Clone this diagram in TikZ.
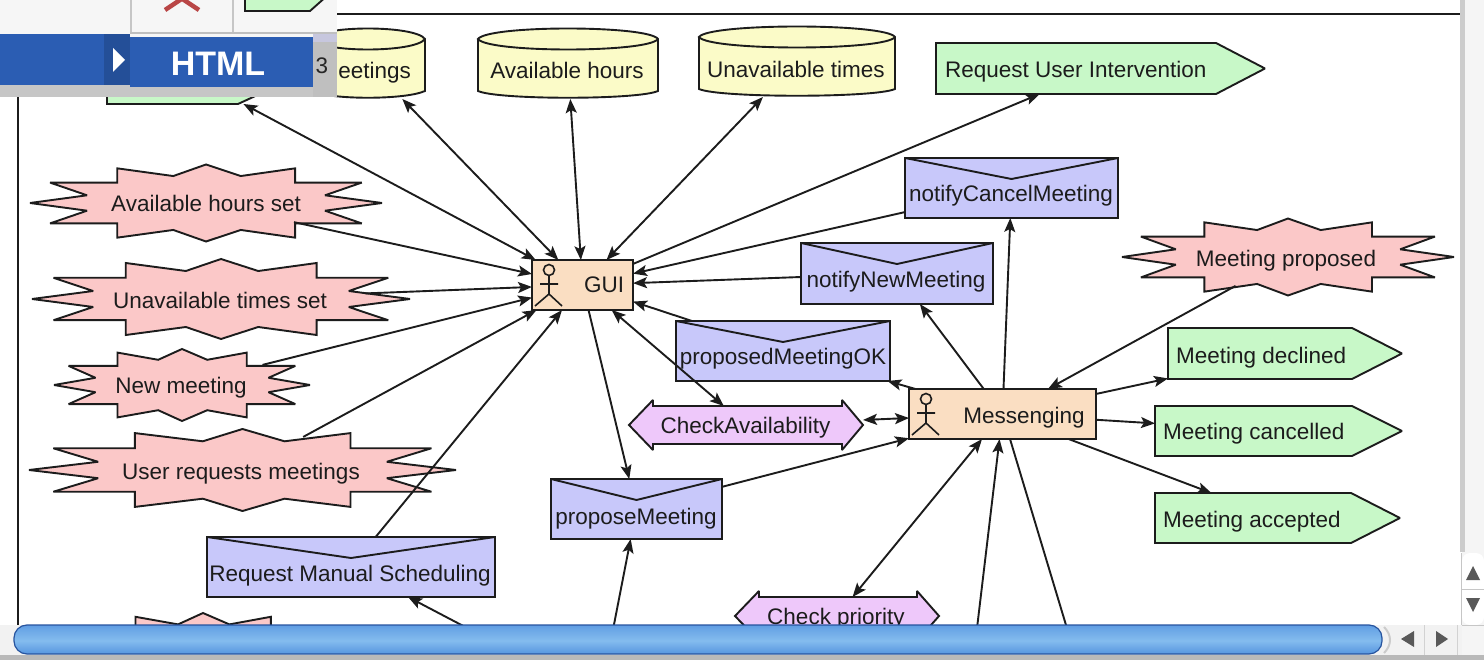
\documentclass[tikz,border=0pt]{standalone}
\usepackage{fontspec}
\setmainfont{Liberation Sans}
\usetikzlibrary{arrows.meta}
\definecolor{ink}{HTML}{1C1C1C}
\definecolor{starfill}{HTML}{FBC8C8}
\definecolor{envfill}{HTML}{C8C8FA}
\definecolor{pentfill}{HTML}{C8F8C8}
\definecolor{cylfill}{HTML}{FBFBC8}
\definecolor{actfill}{HTML}{FADEC2}
\definecolor{hexfill}{HTML}{EEC8FA}
\definecolor{menublue}{HTML}{2B5DB3}
\definecolor{sba}{HTML}{27549F}
\definecolor{sbb}{HTML}{4A88DC}
\definecolor{sbc}{HTML}{6AA6E6}
\definecolor{sbd}{HTML}{84BCEE}
\definecolor{sbe}{HTML}{5C9AE2}
\definecolor{sbf}{HTML}{3A74CC}
\pgfdeclareverticalshading{sbar}{100bp}{color(0bp)=(sba);color(10bp)=(sbf);color(28bp)=(sbe);color(48bp)=(sbd);color(68bp)=(sbc);color(88bp)=(sbb);color(94bp)=(sba);color(100bp)=(sba)}
\tikzset{
  shapeline/.style={draw=ink,line width=1.9pt,line join=miter,miter limit=2},
  hit/.style={rectangle,inner sep=0pt,outer sep=0pt},
  lbl/.style={inner sep=0pt,outer sep=0pt,anchor=base,text=ink,font=\fontsize{22.5}{26}\selectfont},
  lblw/.style={lbl,anchor=base west},
  envbox/.style={rectangle,inner sep=0pt,outer sep=0pt,shapeline,fill=envfill},
  actbox/.style={rectangle,inner sep=0pt,outer sep=0pt,shapeline,fill=actfill},
  conn/.style={draw=ink,line width=1.9pt},
  to/.style={conn,-{Stealth[length=14pt,width=11pt,inset=3pt]}},
  both/.style={conn,{Stealth[length=14pt,width=11pt,inset=3pt]}-{Stealth[length=14pt,width=11pt,inset=3pt]}},
  actorline/.style={draw=ink,line width=1.6pt}
}
% name, cx, cy, half width, half height
\newcommand{\starnode}[5]{%
  \begin{scope}[shift={(#2,#3)},x=#4pt,y=-#5pt]
    \draw[shapeline,fill=starfill] (-1,0)--(-.676,-.2)--(-.886,-.53)--(-.504,-.53)--(-.504,-.9)--(-.186,-.7)--(0,-1)--(.197,-.7)--(.506,-.9)--(.506,-.53)--(.885,-.53)--(.676,-.2)--(1,0)--(.676,.2)--(.885,.53)--(.506,.53)--(.506,.9)--(.197,.7)--(0,1)--(-.186,.7)--(-.504,.9)--(-.504,.53)--(-.886,.53)--(-.676,.2)--cycle;
  \end{scope}
  \node[hit,minimum width={#4*1.0pt},minimum height={#5*1.8pt}] (#1) at (#2,#3) {};
}
% name, left, shoulder, tip, top, bottom
\newcommand{\pentnode}[6]{%
  \draw[shapeline,fill=pentfill] (#2,#5)--(#3,#5)--(#4,{(#5+#6)/2})--(#3,#6)--(#2,#6)--cycle;
  \node[hit,minimum width={(#4-#2)*1pt},minimum height={(#6-#5)*1pt}] (#1) at ({(#2+#4)/2},{(#5+#6)/2}) {};
}
% name, left, right, top, bottom
\newcommand{\envnode}[5]{%
  \node[envbox,minimum width={(#3-#2)*1pt},minimum height={(#5-#4)*1pt}] (#1) at ({(#2+#3)/2},{(#4+#5)/2}) {};
  \draw[shapeline] (#2,#4)--({(#2+#3)/2},#4+21)--(#3,#4);
}
% name, left, right, top, bottom
\newcommand{\cylnode}[5]{%
  \draw[shapeline,fill=cylfill] (#2,#4+11) -- (#2,#5-8) .. controls ({#2+20},#5+1) and ({#3-20},#5+1) .. (#3,#5-8) -- (#3,#4+11) .. controls ({#3-10},#4-3) and ({#2+10},#4-3) .. (#2,#4+11) .. controls ({#2+10},#4+25) and ({#3-10},#4+25) .. (#3,#4+11);
  \node[hit,minimum width={(#3-#2)*1pt},minimum height={(#5-#4)*1pt}] (#1) at ({(#2+#3)/2},{(#4+#5)/2}) {};
}
% name, notch left, notch right, tip left, tip right, cy, half body
\newcommand{\hexnode}[7]{%
  \draw[shapeline,fill=hexfill] (#4,#6)--(#2,#6-25)--(#2,#6-#7)--(#3,#6-#7)--(#3,#6-25)--(#5,#6)--(#3,#6+25)--(#3,#6+#7)--(#2,#6+#7)--(#2,#6+25)--cycle;
  \node[hit,minimum width={(#5-#4)*1pt},minimum height={2*#7*1pt}] (#1) at ({(#4+#5)/2},#6) {};
}
% head x, head y
\newcommand{\actor}[2]{%
  \draw[actorline] (#1,#2) circle[radius=5.5pt];
  \draw[actorline] (#1,#2+5.5)--(#1,#2+24) (#1-9,#2+14)--(#1+9,#2+14) (#1-14,#2+36)--(#1,#2+24)--(#1+13,#2+36);
}
\begin{document}
\begin{tikzpicture}[x=1pt,y=-1pt]
\useasboundingbox (0,0) rectangle (1484,660);
\begin{scope}
\clip (0,0) rectangle (1484,660);
\fill[white] (0,0) rectangle (1484,660);
% window frame
\draw[draw=ink,line width=1.7pt] (18,640)--(18,14)--(1461,14);
% shapes
\pentnode{hidpent}{107}{238}{290}{56}{104}
\cylnode{meet}{311}{425}{28}{99}
\cylnode{avail}{478}{658}{28}{99}
\cylnode{unavail}{699}{895}{26}{97}
\pentnode{rui}{936}{1216}{1265}{43}{94}
\starnode{sah}{206}{203}{176}{38.5}
\starnode{sut}{221}{299}{189}{40}
\starnode{snm}{182}{385}{128}{36}
\starnode{sur}{242.5}{470}{213.5}{41}
\starnode{smp}{1288}{257}{166}{38.5}
\starnode{shid}{203}{651}{134}{38}
\envnode{ncm}{905}{1118}{158}{218}
\envnode{nnm}{801}{993}{243}{304}
\envnode{pmo}{676}{890}{321}{381}
\envnode{pm}{551}{722}{479}{539}
\envnode{rms}{207}{495}{537}{597}
\hexnode{ca}{653}{842}{629}{863}{425}{19}
\hexnode{cp}{759}{917}{735}{939}{616}{19}
\pentnode{mdc}{1168}{1352}{1402}{328}{379}
\pentnode{mca}{1155}{1352}{1402}{406}{456}
\pentnode{mac}{1155}{1351}{1400}{493}{543}
\node[actbox,minimum width=101pt,minimum height=50pt] (gui) at (582.5,285) {};
\node[actbox,minimum width=187pt,minimum height=50pt] (msg) at (1002.5,414) {};
\actor{549}{270}
\actor{926}{399}
% free ends hidden by the scroll bar
\coordinate (offa) at (610,645);
\coordinate (offb) at (490,640);
\coordinate (offc) at (975,645);
\coordinate (offd) at (1072,645);
% connectors
\draw[both] (hidpent)--(gui);
\draw[both] (meet)--(gui);
\draw[both] (avail)--(gui);
\draw[both] (unavail)--(gui);
\draw[to] (gui)--(rui);
\draw[to] (sah)--(gui);
\draw[to,shorten <=50pt] (sut)--(gui);
\draw[to,shorten <=17pt] (snm)--(gui);
\draw[to,shorten <=-8pt] (sur)--(gui);
\draw[to] (rms)--(gui);
\draw[to] (ncm)--(gui);
\draw[to] (nnm)--(gui);
\draw[to] (pmo)--(gui);
\draw[both] (gui)--(ca);
\draw[to] (gui)--(pm);
\draw[to] (pm)--(msg);
\draw[to] (offa)--(pm);
\draw[to] (offb)--(rms);
\draw[both] (ca)--(msg);
\draw[to] (msg)--(pmo);
\draw[to] (msg)--(nnm);
\draw[to] (msg)--(ncm);
\draw[to,shorten <=-12pt] (smp)--(msg);
\draw[to] (msg)--(mdc);
\draw[to] (msg)--(mca);
\draw[to] (msg)--(mac);
\draw[both] (msg)--(cp);
\draw[to] (offc)--(msg);
\draw[conn] (msg)--(offd);
% labels
\node[lbl] (t-avail) at (567,79) {Available hours};
\node[lbl] (t-unavail) at (796,78) {Unavailable times};
\node[lbl,anchor=base east] (t-meet) at (411,79) {eetings};
\node[lblw] (t-rui) at (945,78) {Request User Intervention};
\node[lbl] (t-sah) at (206,212) {Available hours set};
\node[lbl] (t-sut) at (220,309) {Unavailable times set};
\node[lbl] (t-snm) at (181,394) {New meeting};
\node[lbl] (t-sur) at (241,479) {User requests meetings};
\node[lbl] (t-smp) at (1286,267) {Meeting proposed};
\node[lbl] (t-ncm) at (1011,202) {notifyCancelMeeting};
\node[lbl] (t-nnm) at (896,288) {notifyNewMeeting};
\node[lbl] (t-pmo) at (783,365) {proposedMeetingOK};
\node[lbl] (t-pm) at (636,524) {proposeMeeting};
\node[lbl] (t-rms) at (350,581) {Request Manual Scheduling};
\node[lbl] (t-ca) at (745.5,433) {CheckAvailability};
\node[lbl] (t-cp) at (836,624) {Check priority};
\node[lbl] (t-gui) at (604,293) {GUI};
\node[lbl] (t-msg) at (1024,423) {Messenging};
\node[lblw] (t-mdc) at (1176,363) {Meeting declined};
\node[lblw] (t-mca) at (1163,439) {Meeting cancelled};
\node[lblw] (t-mac) at (1163,527) {Meeting accepted};
% pop-up overlay at the top left
\fill[gray!7] (0,0) rectangle (337,97);
\fill[gray!45] (0,85) rectangle (337,97);
\fill[gray!50] (313,37) rectangle (337,97);
\fill[blue!25!gray!35] (313,34) rectangle (337,42);
\draw[gray!45,line width=1.6pt] (131,0)--(131,33) (233,0)--(233,33);
\draw[gray!50,line width=1.2pt] (130,33)--(337,33);
\draw[red!45!gray,line width=4.5pt] (172,-8)--(199,10) (192,-8)--(165,10);
\draw[shapeline,fill=pentfill] (245,-5)--(245,11)--(310,11)--(328,-5);
\fill[menublue] (0,34) rectangle (130,85);
\fill[menublue!85!black] (104,34) rectangle (130,85);
\fill[menublue] (130,37) rectangle (313,87);
\fill[white] (113,48)--(125,60)--(113,72)--cycle;
\node[inner sep=0pt,outer sep=0pt,anchor=base,text=white,font=\fontsize{34}{38}\selectfont\bfseries] (t-html) at (218,76) {HTML};
\node[lbl,text=gray!30!black] (t-three) at (322,74) {3};
% right scroll bar
\fill[gray!8] (1462,0) rectangle (1484,660);
\fill[gray!40] (1460,0) rectangle (1465,552);
\fill[white,rounded corners=8pt] (1462,553) -- (1462,625) -- (1484,625) -- (1484,553) -- cycle;
\draw[gray!45,line width=1pt] (1461,553)--(1461,625)--(1484,625) (1462,589)--(1484,589);
\fill[gray!70!black] (1473,566)--(1480,580)--(1466,580)--cycle;
\fill[gray!70!black] (1473,612)--(1480,598)--(1466,598)--cycle;
% bottom scroll bar
\fill[gray!10] (0,625) rectangle (1462,660);
\fill[gray!55] (0,655) rectangle (1484,660);
\shade[shading=sbar,rounded corners=13pt] (14,625) rectangle (1382,654);
\draw[sba,line width=1.2pt,rounded corners=13pt] (14,625) rectangle (1382,654);
\draw[gray!40,line width=2pt] (1384,627) .. controls (1392,635) and (1392,645) .. (1384,653);
\draw[gray!35,line width=1pt] (1424,625)--(1424,655) (1457,625)--(1457,655);
\fill[gray!70!black] (1401,639)--(1414,631)--(1414,647)--cycle;
\fill[gray!70!black] (1448,639)--(1436,631)--(1436,647)--cycle;
\end{scope}
\end{tikzpicture}
\end{document}
